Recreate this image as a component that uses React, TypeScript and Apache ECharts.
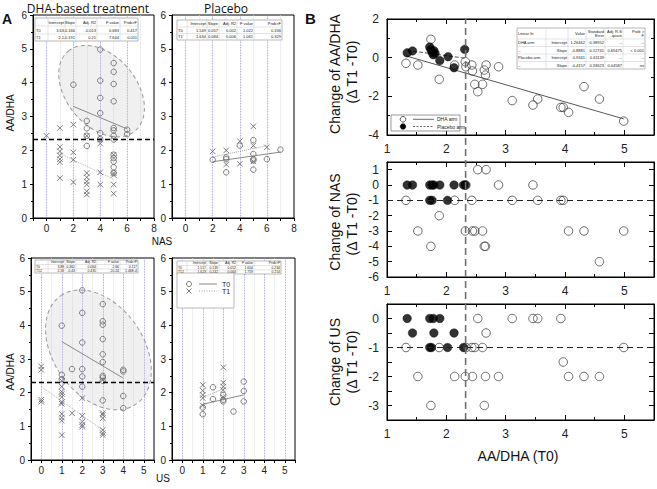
import React, { useEffect, useRef } from "react";
import * as echarts from "echarts";

const FONT = "Liberation Sans, Arial, sans-serif";

// ---------------- Panel A: AA/DHA vs NAS / US ----------------
const dhaNasT0 = [[2,3.94],[3,2.87],[3,2.65],[3,2.43],[3,2.13],[4,4.98],[4,4.06],[4,3.55],[4,3.1],[4,2.51],[4,2.33],[5,4.58],[5,4.32],[5,3.96],[5,3.45],[5,2.66],[5,2.59],[5,2.43],[5,2.32],[5,1.87],[5,1.77],[5,1.67],[5,1.5],[5,1.33],[6,2.61],[6,2.48]];
const dhaNasT1 = [[0,2.43],[1,2.66],[1,2.1],[1,1.97],[1,1.85],[1,1.74],[1,1.65],[1,1.18],[2,2.76],[2,1.94],[2,1.72],[2,1.06],[3,2.43],[3,1.33],[3,1.2],[3,1.08],[3,0.99],[3,0.79],[3,0.69],[4,2.32],[4,2.2],[4,1.35],[4,0.99],[5,1.87],[5,1.33],[5,1.27],[5,0.99],[5,0.72]];
const plaNasT0 = [[2,1.72],[3,1.79],[3,1.74],[3,1.35],[4,2.14],[5,2.3],[5,1.89],[5,1.74],[5,1.7],[5,1.43],[6,1.74],[7,2.02]];
const plaNasT1 = [[2,1.97],[3,2.0],[3,1.58],[4,2.27],[4,1.6],[5,2.71],[5,2.14],[5,1.67],[6,2.09]];
const dhaUsT0 = [[1,3.99],[1,2.53],[1,2.4],[1.5,2.7],[2,5.04],[2,4.37],[2,3.49],[2,2.7],[2,2.48],[2,2.18],[3,4.63],[3,4.12],[3,4.02],[3,3.59],[3,3.14],[3,2.91],[3,2.5],[3,2.45],[3,2.35],[3,1.77],[4,2.68],[4,2.63],[4,1.9],[4,1.54]];
const dhaUsT1 = [[0,2.78],[0,2.68],[0,1.79],[0,1.73],[1,2.35],[1,2.18],[1,2.03],[1,1.96],[1,1.87],[1,1.72],[1,1.67],[1,1.37],[1,1.26],[1,1.17],[1,0.74],[1.5,1.39],[2,1.84],[2,1.31],[2,1.14],[2,1.04],[2,0.99],[3,2.38],[3,1.39],[3,1.34],[3,1.24],[3,0.89],[3,0.8],[3,0.74]];
const plaUsT0 = [[1,1.56],[1,1.36],[1.5,2.16],[1.5,1.81],[2,1.93],[2,1.79],[2,1.74],[2.5,1.44],[3,2.33],[3,2.05],[3,1.74]];
const plaUsT1 = [[1,2.23],[1,2.06],[1,1.93],[1,1.84],[1,1.62],[2,2.75],[2,2.3],[2,2.18],[2,2.08],[2,1.87]];

// y tick labels of the AA/DHA axes
const aaDhaTicks = [0, 1, 2, 3, 4, 5, 6];

// linear fits: [intercept, slope] and fitted x span
const fitDhaNasT0 = [3.63, -0.166]; const spanDhaNasT0 = [2, 6];
const fitDhaNasT1 = [2.1, -0.191]; const spanDhaNasT1 = [1, 5];
const fitPlaNasT0 = [1.549, 0.057]; const spanPlaNasT0 = [2, 7];
const fitPlaNasT1 = [1.634, 0.084]; const spanPlaNasT1 = [2, 6];
const fitDhaUsT0 = [3.88, -0.362]; const spanDhaUsT0 = [1, 4];
const fitDhaUsT1 = [2.18, -0.43]; const spanDhaUsT1 = [0, 3];
const fitPlaUsT0 = [1.517, 0.139]; const spanPlaUsT0 = [1, 3];
const fitPlaUsT1 = [1.623, 0.242]; const spanPlaUsT1 = [1, 2];

const ellipseDhaNas = [4.1, 3.75];
const ellipseDhaUs = [2.79, 3.27];

const aaDhaCutoff = 2.32;
const changeCutoff = -1;

const tableHeaderA = ["", "Intercept", "Slope", "Adj. R2", "F value", "Prob>F"];
const tableDhaNas = [tableHeaderA, ["T0","3.63","-0.166","-0.013","0.683","0.417"], ["T1","2.1","-0.191","0.21","7.644","0.011"]];
const tablePlaNas = [tableHeaderA, ["T0","1.549","0.057","0.002","1.022","0.336"], ["T1'","1.634","0.084","0.006","1.061","0.329"]];
const tableDhaUs = [tableHeaderA, ["T0","3.88","-0.362","0.064","2.66","0.117"], ["T12","2.18","-0.43","0.435","20.24","1.46E-4"]];
const tablePlaUs = [tableHeaderA, ["T0","1.517","0.139","0.052","1.604","0.234"], ["T12","1.623","0.242","0.064","1.759","0.214"]];

// ---------------- Panel B: change vs baseline AA/DHA ----------------
const dhaArmDeltaRatio = [[1.32,-0.29],[1.52,-0.38],[1.74,0.95],[1.88,-1.12],[2.14,-0.38],[2.32,-0.21],[2.33,-0.47],[2.43,-0.38],[2.44,-0.69],[2.48,-1.38],[2.53,-1.76],[2.61,-1.38],[2.64,-0.64],[2.66,-0.9],[2.67,-0.38],[2.88,-0.47],[3.11,-2.22],[3.46,-2.45],[3.54,-2.14],[3.93,-2.57],[3.97,-2.57],[4.06,-2.83],[4.32,-1.5],[4.58,-2.14],[4.99,-3.28]];
const placeboArmDeltaRatio = [[1.34,0.25],[1.43,0.35],[1.72,0.55],[1.74,0.42],[1.76,0.27],[1.78,0.15],[1.79,0.36],[1.81,0.22],[1.89,-0.15],[2.03,0.05],[2.13,-0.52],[2.31,0.43]];
const dhaArmDeltaNas = [[1.32,-1],[1.52,-3],[1.74,-4],[1.88,-2],[2.14,-1],[2.32,-3],[2.33,0],[2.43,-1],[2.44,-3],[2.48,-3],[2.53,1],[2.61,-3],[2.64,-4],[2.66,-4],[2.67,1],[2.88,0],[3.11,-1],[3.46,0],[3.54,-1],[3.93,-1],[3.97,-1],[4.06,-3],[4.32,-3],[4.58,-5],[4.99,-3]];
const placeboArmDeltaNas = [[1.34,0],[1.43,0],[1.72,0],[1.76,0],[1.79,0],[1.89,0],[2.13,0],[2.29,0],[2.32,0],[1.72,-1],[1.76,-1],[2.02,-1]];
const dhaArmDeltaUs = [[1.32,-1],[1.52,-2],[1.74,-3],[1.88,-1],[2.14,-2],[2.32,-2],[2.33,-1],[2.43,-1],[2.44,-2],[2.48,-1],[2.53,0],[2.61,-1],[2.64,-3],[2.66,-2],[2.67,-0.5],[2.88,-2],[3.11,0],[3.46,0],[3.54,0],[3.93,0],[3.97,-1.5],[4.06,-2],[4.32,-2],[4.58,-2],[4.99,-1]];
const placeboArmDeltaUs = [[1.34,0],[1.43,-0.5],[1.72,0],[1.78,0],[1.89,0],[1.79,-0.5],[2.13,-0.5],[1.72,-1],[1.75,-1],[2.02,-1],[2.29,-1]];

const fitDhaArm = [1.26462, -0.8881]; const spanDhaArm = [1.32, 4.99];
const fitPlaceboArm = [0.9341, -0.4157]; const spanPlaceboArm = [1.34, 2.31];

const tableB = [
  ["Linear fit", "", "Value", "Standard\nError", "Adj. R-S\nquare", "Prob >\nF"],
  ["DHA arm", "Intercept", "1.26462", "0.38952", "--", "--"],
  ["--", "Slope", "-0.8881", "0.12741", "0.69475", "< 0.001"],
  ["Placebo arm", "Intercept", "0.9341", "0.61139", "--", "--"],
  ["--", "Slope", "-0.4157", "0.33623", "0.04587", "ns"],
];

// ---------------- helpers ----------------
const intFmt = (v: any) => {
  const n = Number(v);
  return Math.abs(n - Math.round(n)) < 1e-6 ? String(Math.round(n)) : "";
};

function table(x0: number, y0: number, colW: number[], rowH: number[], cells: string[][], fs: number) {
  const W = colW.reduce((a, b) => a + b, 0);
  const H = rowH.reduce((a, b) => a + b, 0);
  const z = 100;
  const children: any[] = [
    { type: "rect", z, shape: { x: 0, y: 0, width: W, height: H }, style: { fill: "#fff", stroke: "#8a8a8a", lineWidth: 0.6 } },
  ];
  let yy = 0;
  rowH.forEach((h, i) => {
    if (i > 0) children.push({ type: "line", z, shape: { x1: 0, y1: yy, x2: W, y2: yy }, style: { stroke: "#c8c8c8", lineWidth: 0.5 } });
    yy += h;
  });
  let xx = 0;
  colW.forEach((w, i) => {
    if (i > 0) children.push({ type: "line", z, shape: { x1: xx, y1: 0, x2: xx, y2: H }, style: { stroke: "#c8c8c8", lineWidth: 0.5 } });
    xx += w;
  });
  let ry = 0;
  cells.forEach((row, r) => {
    let cx = 0;
    row.forEach((c, ci) => {
      if (c) {
        children.push({
          type: "text", z,
          x: ci === 0 ? cx + 1 : cx + colW[ci] - 1,
          y: ry + rowH[r] / 2,
          style: { text: c, fontSize: fs, fontFamily: FONT, fill: "#222", align: ci === 0 ? "left" : "right", verticalAlign: "middle", lineHeight: fs + 0.6 },
        });
      }
      cx += colW[ci];
    });
    ry += rowH[r];
  });
  return { type: "group", x: x0, y: y0, children };
}

const txt = (text: string, x: number, y: number, fs: number, extra: any = {}) => ({
  type: "text", x, y, z: 100, rotation: extra.rotation || 0,
  style: { text, fontSize: fs, fontFamily: extra.fontFamily || FONT, fontWeight: extra.fontWeight || "normal", fill: "#111", align: extra.align || "center", verticalAlign: extra.verticalAlign || "middle" },
});

const GREY = "#6f6f6f";
const circles = (data: number[][], gi: number, size: number, extra: any = {}) => ({
  type: "scatter", xAxisIndex: gi, yAxisIndex: gi, data, symbol: "circle", symbolSize: size, z: 4, silent: true,
  itemStyle: { color: "rgba(0,0,0,0)", borderColor: GREY, borderWidth: 0.9, opacity: 1 },
  ...extra,
});
const crosses = (data: number[][], gi: number) => ({
  type: "scatter", xAxisIndex: gi, yAxisIndex: gi, data, symbol: "path://M0,0L10,10M10,0L0,10", symbolSize: 5.5, z: 4, silent: true,
  itemStyle: { color: "none", borderColor: GREY, borderWidth: 0.9, opacity: 1 },
});
const fitLine = (coef: number[], span: number[], gi: number, type: any, color: string, width = 1) => ({
  type: "line", xAxisIndex: gi, yAxisIndex: gi, silent: true, z: 3, symbol: "none",
  data: span.map((x) => [x, coef[0] + coef[1] * x]),
  lineStyle: { color, width, type },
});
const ellipse = (center: number[], gi: number, rx: number, ry: number, deg: number) => ({
  type: "custom", xAxisIndex: gi, yAxisIndex: gi, silent: true, z: 1, data: [center],
  renderItem: (params: any, api: any) => {
    const p = api.coord([api.value(0), api.value(1)]);
    return {
      type: "ellipse", x: p[0], y: p[1], rotation: (-deg * Math.PI) / 180,
      shape: { cx: 0, cy: 0, rx, ry },
      style: { fill: "rgba(200,200,200,0.28)", stroke: "#9a9a9a", lineWidth: 1, lineDash: [4, 3] },
    };
  },
});
const hLine = (value: number, color: string, dash: number[], width: number) => ({
  silent: true, symbol: "none", label: { show: false },
  lineStyle: { color, type: dash, width },
  data: [{ yAxis: value }],
});

const aTick = () => ({ show: true, inside: false, length: 3, lineStyle: { color: "#000" } });
const aLabel = () => ({ show: true, fontSize: 10, color: "#222", fontFamily: FONT, margin: 5, showMinLabel: true, showMaxLabel: true });
const aSplit = () => ({ show: true, showMinLine: false, showMaxLine: false, lineStyle: { color: ["#8585e6", "#d6d6d6"], type: "dotted", width: 0.8 } });
const axLine = () => ({ show: true, onZero: false, lineStyle: { color: "#000", width: 1 } });

const aXNas = (gi: number) => ({
  gridIndex: gi, type: "value", min: -1, max: 8, interval: 1, axisLine: axLine(), axisTick: aTick(),
  axisLabel: { ...aLabel(), formatter: (v: number) => (v >= 0 && Math.round(v) % 2 === 0 ? String(Math.round(v)) : "") },
  splitLine: aSplit(),
});
const aXUs = (gi: number) => ({
  gridIndex: gi, type: "value", min: -0.5, max: 5.5, interval: 0.5, axisLine: axLine(), axisTick: aTick(),
  axisLabel: { ...aLabel(), formatter: intFmt },
  splitLine: aSplit(),
});
const aY = (gi: number) => ({
  gridIndex: gi, type: "value", min: 0, max: 6, interval: 1,
  axisLine: { show: true, onZero: false, lineStyle: { color: "#000" } },
  axisTick: { show: true, length: 3, lineStyle: { color: "#000" } },
  minorTick: { show: true, splitNumber: 2, length: 2, lineStyle: { color: "#000" } },
  axisLabel: { show: false },
  splitLine: { show: false },
});
const aXMin = [-1, -1, -0.5, -0.5];

const bTick = () => ({ show: true, inside: true, length: 5, lineStyle: { color: "#000" } });
const bLabel = () => ({ fontSize: 12, color: "#222", fontFamily: FONT, margin: 8, showMinLabel: true, showMaxLabel: true, formatter: intFmt });
const bX = (gi: number, position: string, show: boolean) => ({
  gridIndex: gi, type: "value", position, min: 1, max: 5.5, interval: 1, axisLine: axLine(), axisTick: bTick(),
  minorTick: { show: true, splitNumber: 2, length: 3, lineStyle: { color: "#000" } },
  axisLabel: { ...bLabel(), show }, splitLine: { show: false },
});
const bY = (gi: number, position: string, show: boolean, min: number, max: number, interval: number, minor: boolean) => ({
  gridIndex: gi, type: "value", position, min, max, interval, axisLine: axLine(), axisTick: bTick(),
  minorTick: { show: minor, splitNumber: 2, length: 3, lineStyle: { color: "#000" } },
  axisLabel: { ...bLabel(), show }, splitLine: { show: false },
});

const gridBoxes = [
  { left: 33, top: 15, width: 121, height: 203 },
  { left: 172, top: 15, width: 122, height: 203 },
  { left: 31, top: 258, width: 123, height: 202 },
  { left: 172, top: 258, width: 123, height: 202 },
  { left: 387, top: 19, width: 268, height: 116 },
  { left: 387, top: 162, width: 268, height: 115 },
  { left: 387, top: 304, width: 268, height: 116 },
  { left: 387, top: 19, width: 268, height: 401 },
];

function buildOption() {
  const grid = gridBoxes.map((g, i) => ({ ...g, show: i < 7, borderColor: "#000", borderWidth: 1, backgroundColor: "transparent" }));
  const xAxis: any[] = [
    aXNas(0), aXNas(1), aXUs(2), aXUs(3),
    bX(4, "bottom", true), bX(5, "bottom", true), bX(6, "bottom", true),
    { gridIndex: 7, type: "value", min: 1, max: 5.5, show: false },
    bX(4, "top", false), bX(5, "top", false), bX(6, "top", false),
  ];
  const yAxis: any[] = [
    aY(0), aY(1), aY(2), aY(3),
    bY(4, "left", true, -4, 2, 2, true), bY(5, "left", true, -6, 1.5, 1, false), bY(6, "left", true, -3.5, 0.5, 0.5, false),
    { gridIndex: 7, type: "value", min: 0, max: 1, show: false },
    bY(4, "right", false, -4, 2, 2, true), bY(5, "right", false, -6, 1.5, 1, false), bY(6, "right", false, -3.5, 0.5, 0.5, false),
  ];

  const cutLineA = () => hLine(aaDhaCutoff, "#000", [5, 3], 1.4);
  const cutLineB = () => hLine(changeCutoff, "#222", [6, 4], 1.1);

  const series: any[] = [
    ellipse(ellipseDhaNas, 0, 52, 35, 50),
    ellipse(ellipseDhaUs, 2, 66, 45, 55),
    { ...circles(dhaNasT0, 0, 5.5), markLine: cutLineA() },
    crosses(dhaNasT1, 0),
    fitLine(fitDhaNasT0, spanDhaNasT0, 0, "solid", "#8a8a8a"),
    fitLine(fitDhaNasT1, spanDhaNasT1, 0, "dotted", "#b5b5b5"),
    circles(plaNasT0, 1, 5.5), crosses(plaNasT1, 1),
    fitLine(fitPlaNasT0, spanPlaNasT0, 1, "solid", "#8a8a8a"),
    fitLine(fitPlaNasT1, spanPlaNasT1, 1, "dotted", "#a0a0a0"),
    { ...circles(dhaUsT0, 2, 5.5), markLine: cutLineA() },
    crosses(dhaUsT1, 2),
    fitLine(fitDhaUsT0, spanDhaUsT0, 2, "solid", "#8a8a8a"),
    fitLine(fitDhaUsT1, spanDhaUsT1, 2, "dotted", "#b5b5b5"),
    circles(plaUsT0, 3, 5.5), crosses(plaUsT1, 3),
    fitLine(fitPlaUsT0, spanPlaUsT0, 3, "solid", "#8a8a8a"),
    fitLine(fitPlaUsT1, spanPlaUsT1, 3, "dotted", "#a0a0a0"),
    // panel B
    fitLine(fitDhaArm, spanDhaArm, 4, "solid", "#444", 0.9),
    fitLine(fitPlaceboArm, spanPlaceboArm, 4, [4, 2], "#444", 0.9),
    circles(dhaArmDeltaRatio, 4, 8.5, { itemStyle: { color: "rgba(0,0,0,0)", borderColor: "#333", borderWidth: 0.9 } }),
    circles(placeboArmDeltaRatio, 4, 8.5, { itemStyle: { color: "#000", borderColor: "#000", borderWidth: 0.5 } }),
    { ...circles(dhaArmDeltaNas, 5, 8.5, { itemStyle: { color: "rgba(0,0,0,0)", borderColor: "#333", borderWidth: 0.9 } }), markLine: cutLineB() },
    circles(placeboArmDeltaNas, 5, 8.5, { itemStyle: { color: "#000", borderColor: "#000", borderWidth: 0.5 } }),
    { ...circles(dhaArmDeltaUs, 6, 8.5, { itemStyle: { color: "rgba(0,0,0,0)", borderColor: "#333", borderWidth: 0.9 } }), markLine: cutLineB() },
    circles(placeboArmDeltaUs, 6, 8.5, { itemStyle: { color: "#000", borderColor: "#000", borderWidth: 0.5 } }),
    {
      type: "line", xAxisIndex: 7, yAxisIndex: 7, silent: true, symbol: "none", z: 5,
      data: [[aaDhaCutoff, 0], [aaDhaCutoff, 1]],
      lineStyle: { color: "#707070", width: 1.6, type: [7, 4] },
    },
  ];

  const colA = [13, 17, 11, 21, 23, 18];
  const colAR = [10, 20, 12, 18, 17, 28];
  const graphic: any[] = [
    txt("A", 2, 12, 14, { fontWeight: "bold", align: "left", verticalAlign: "top" }),
    txt("B", 305, 11, 15, { fontWeight: "bold", align: "left", verticalAlign: "top" }),
    txt("DHA-based treatment", 88, 8, 12, { fontFamily: "Open Sans, sans-serif" }),
    txt("Placebo", 226, 8, 12, { fontFamily: "Open Sans, sans-serif" }),
    txt("AA/DHA", 10, 113, 10, { rotation: Math.PI / 2 }),
    txt("AA/DHA", 10, 372, 10, { rotation: Math.PI / 2 }),
    txt("NAS", 162, 241, 10),
    txt("US", 163, 478, 10),
    table(35, 18, colA, [8, 8, 7], tableDhaNas, 4),
    table(177, 20, colAR, [7, 6.5, 6.5], tablePlaNas, 4),
    table(35, 260, colA, [4.5, 4.3, 4.2], tableDhaUs, 3.4),
    table(177, 261, [10, 20, 12, 18, 17, 27], [4.5, 4.3, 4.2], tablePlaUs, 3.4),
    {
      type: "group", x: 177, y: 273,
      children: [
        { type: "rect", z: 100, shape: { x: 0, y: 0, width: 57, height: 35 }, style: { fill: "#fff", stroke: "#8a8a8a", lineWidth: 0.6 } },
        { type: "circle", z: 101, shape: { cx: 12, cy: 11, r: 2.5 }, style: { fill: "none", stroke: GREY, lineWidth: 0.9 } },
        { type: "line", z: 101, shape: { x1: 22, y1: 11, x2: 40, y2: 11 }, style: { stroke: "#8a8a8a", lineWidth: 1 } },
        { type: "text", z: 101, x: 45, y: 11, style: { text: "T0", fontSize: 7, fontFamily: FONT, fill: "#222", verticalAlign: "middle" } },
        { type: "line", z: 101, shape: { x1: 9.5, y1: 15.5, x2: 14.5, y2: 20.5 }, style: { stroke: GREY, lineWidth: 0.9 } },
        { type: "line", z: 101, shape: { x1: 14.5, y1: 15.5, x2: 9.5, y2: 20.5 }, style: { stroke: GREY, lineWidth: 0.9 } },
        { type: "line", z: 101, shape: { x1: 22, y1: 18, x2: 40, y2: 18 }, style: { stroke: "#a0a0a0", lineWidth: 1, lineDash: [1, 1.5] } },
        { type: "text", z: 101, x: 45, y: 18, style: { text: "T1", fontSize: 7, fontFamily: FONT, fill: "#222", verticalAlign: "middle" } },
      ],
    },
    {
      type: "group", x: 391, y: 115,
      children: [
        { type: "rect", z: 100, shape: { x: 0, y: 0, width: 69, height: 16 }, style: { fill: "#fff", stroke: "#555", lineWidth: 0.6 } },
        { type: "circle", z: 101, shape: { cx: 12, cy: 4.3, r: 2.8 }, style: { fill: "#fff", stroke: "#333", lineWidth: 0.8 } },
        { type: "line", z: 101, shape: { x1: 22, y1: 4.3, x2: 43, y2: 4.3 }, style: { stroke: "#444", lineWidth: 0.8 } },
        { type: "text", z: 101, x: 46, y: 4.3, style: { text: "DHA arm", fontSize: 5, fontFamily: FONT, fill: "#222", verticalAlign: "middle" } },
        { type: "circle", z: 101, shape: { cx: 12, cy: 11.5, r: 2.8 }, style: { fill: "#000", stroke: "#000", lineWidth: 0.5 } },
        { type: "line", z: 101, shape: { x1: 22, y1: 11.5, x2: 43, y2: 11.5 }, style: { stroke: "#444", lineWidth: 0.8, lineDash: [2, 1.5] } },
        { type: "text", z: 101, x: 46, y: 11.5, style: { text: "Placebo arm", fontSize: 5, fontFamily: FONT, fill: "#222", verticalAlign: "middle" } },
      ],
    },
    table(517, 28, [29, 22, 18, 19, 18, 22], [11, 7.5, 7.5, 7.5, 7.5], tableB, 4),
    txt("Change of AA/DHA", 335, 74, 14, { rotation: Math.PI / 2 }),
    txt("(\u0394 T1 -T0)", 352, 72, 14, { rotation: Math.PI / 2 }),
    txt("Change of NAS", 335, 222, 14, { rotation: Math.PI / 2 }),
    txt("(\u0394 T1 -T0)", 352, 224, 14, { rotation: Math.PI / 2 }),
    txt("Change of US", 335, 362, 14, { rotation: Math.PI / 2 }),
    txt("(\u0394 T1 -T0)", 352, 362, 14, { rotation: Math.PI / 2 }),
    txt("AA/DHA (T0)", 518, 456, 14),
  ];

  return { animation: false, backgroundColor: "#fff", grid, xAxis, yAxis, series, graphic };
}

export default function App() {
  const ref = useRef<HTMLDivElement>(null);
  useEffect(() => {
    if (!ref.current) return;
    const chart = echarts.init(ref.current, null, { renderer: "svg", width: 657, height: 489 });
    const option: any = buildOption();
    chart.setOption(option);
    // AA/DHA tick labels placed through each panel's own axis scale
    const tickTexts: any[] = [];
    [0, 1, 2, 3].forEach((gi) => {
      aaDhaTicks.forEach((v) => {
        const p: any = chart.convertToPixel({ xAxisIndex: gi, yAxisIndex: gi } as any, [aXMin[gi], v]);
        if (!p) return;
        tickTexts.push({
          type: "text", x: p[0] - 6, y: p[1], z: 100,
          style: { text: String(v), fontSize: 10, fontFamily: FONT, fill: "#222", align: "right", verticalAlign: "middle" },
        });
      });
    });
    chart.setOption({ graphic: [...option.graphic, ...tickTexts] });
    return () => chart.dispose();
  }, []);
  return <div ref={ref} style={{ position: "fixed", left: 0, top: 0, width: 657, height: 489, background: "#fff" }} />;
}
